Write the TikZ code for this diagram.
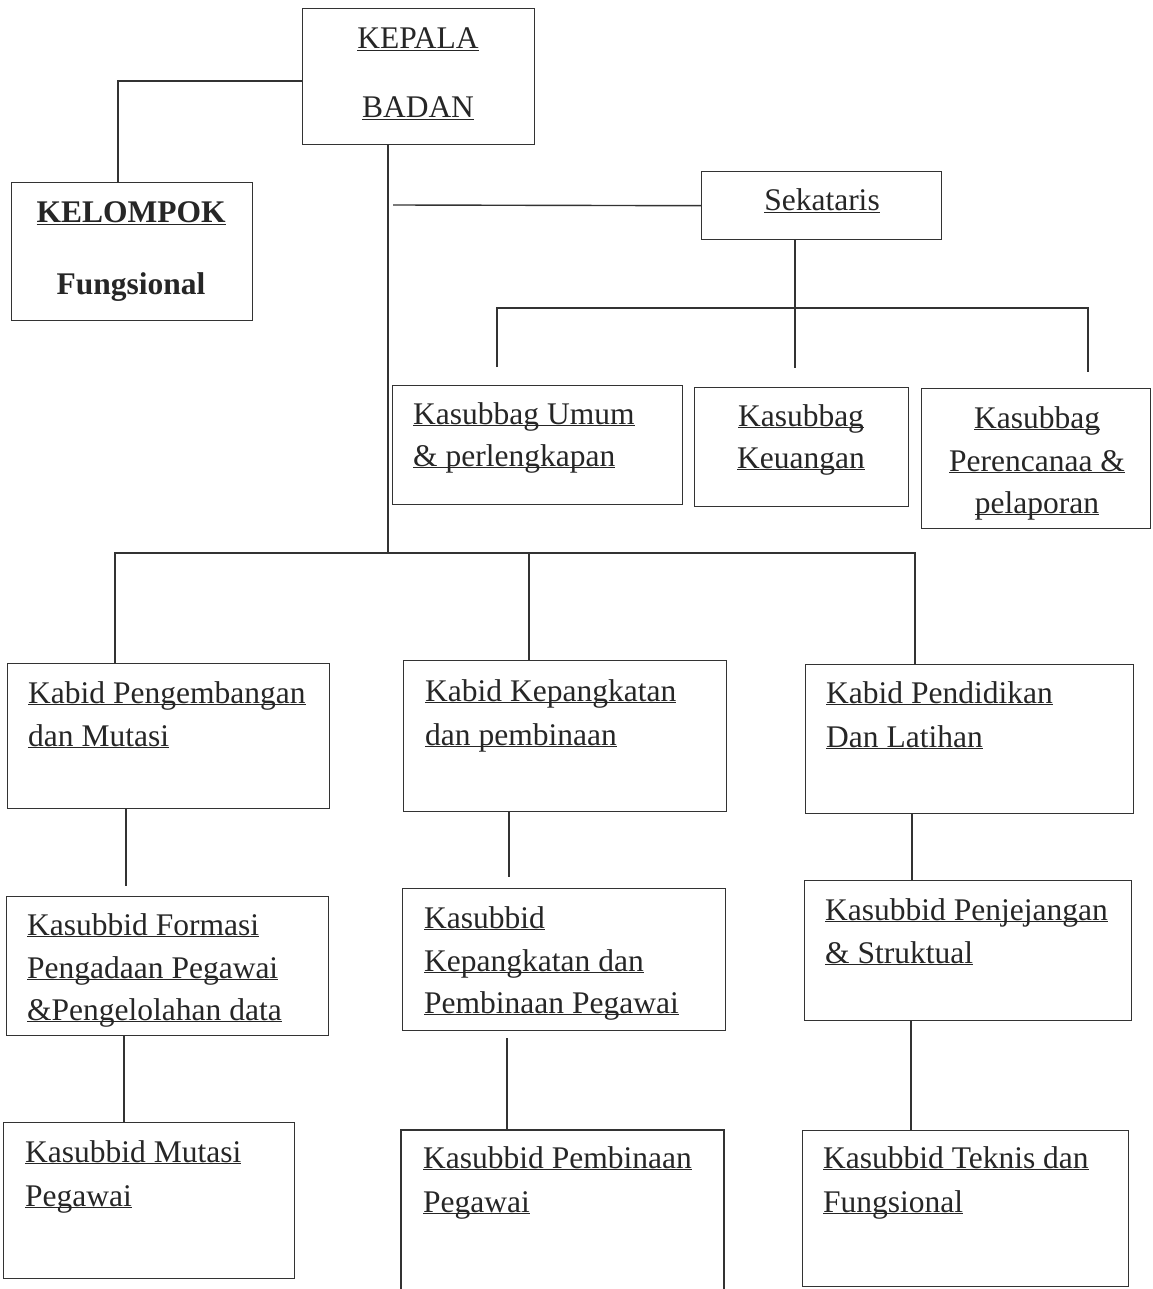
\documentclass[tikz,border=0pt]{standalone}
\usepackage{fontspec}
\setmainfont{Liberation Serif}
\newcommand\uln[1]{\underline{\smash{#1}}}
\definecolor{lc}{HTML}{333333}
\definecolor{tc}{HTML}{262626}
\begin{document}
\begin{tikzpicture}[x=1pt,y=-1pt,
  box/.style={draw=lc, line width=1.4pt, inner sep=0pt, anchor=north west},
  conn/.style={draw=lc, line width=1.4pt},
  txt/.style={inner sep=0pt, text=tc, font=\fontsize{31.5}{43}\selectfont},
  tl/.style={txt, anchor=base west},
  tm/.style={txt, anchor=base}]
\useasboundingbox (0,0) rectangle (1152,1289);
\fill[white] (0,0) rectangle (1152,1289);

% boxes
\node[box, minimum width=232pt, minimum height=136pt] (kepala) at (302,8) {};
\node[box, minimum width=241pt, minimum height=138pt] (kelompok) at (11,182) {};
\node[box, minimum width=240pt, minimum height=68pt] (sek) at (701,171) {};
\node[box, minimum width=290pt, minimum height=119pt] (umum) at (392,385) {};
\node[box, minimum width=214pt, minimum height=119pt] (keu) at (694,387) {};
\node[box, minimum width=229pt, minimum height=140pt] (ren) at (921,388) {};
\node[box, minimum width=322pt, minimum height=145pt] (kb1) at (7,663) {};
\node[box, minimum width=323pt, minimum height=151pt] (kb2) at (403,660) {};
\node[box, minimum width=328pt, minimum height=149pt] (kb3) at (805,664) {};
\node[box, minimum width=322pt, minimum height=139pt] (ks1) at (6,896) {};
\node[box, minimum width=323pt, minimum height=142pt] (ks2) at (402,888) {};
\node[box, minimum width=327pt, minimum height=140pt] (ks3) at (804,880) {};
\node[box, minimum width=291pt, minimum height=156pt] (km1) at (3,1122) {};
\node[box, minimum width=326pt, minimum height=156pt] (km3) at (802,1130) {};
% open-bottom box
\coordinate (km2bl) at (401,1289);
\coordinate (km2br) at (724,1289);
\draw[conn] (km2bl) -- (401,1130) coordinate (km2tl) -- (724,1130) coordinate (km2tr) -- (km2br);

% texts
\node[tm] (t-kep1) at (418,49) {\uln{KEPALA}};
\node[tm] (t-kep2) at (418,118) {\uln{BADAN}};
\node[tm, font=\fontsize{31.5}{43}\selectfont\bfseries] (t-kel1) at (131,223) {\uln{KELOMPOK}};
\node[tm, font=\fontsize{31.5}{43}\selectfont\bfseries] (t-kel2) at (131,294) {Fungsional};
\node[tm] (t-sek) at (822,211) {\uln{Sekataris}};
\node[tl] (t-um1) at (413,424) {\uln{Kasubbag Umum}};
\node[tl] (t-um2) at (413,466) {\uln{\& perlengkapan}};
\node[tm] (t-ke1) at (801,426) {\uln{Kasubbag}};
\node[tm] (t-ke2) at (801,468) {\uln{Keuangan}};
\node[tm] (t-re1) at (1037,428) {\uln{Kasubbag}};
\node[tm] (t-re2) at (1037,471) {\uln{Perencanaa \&}};
\node[tm] (t-re3) at (1037,513) {\uln{pelaporan}};
\node[tl] (t-kb11) at (28,703) {\uln{Kabid Pengembangan}};
\node[tl] (t-kb12) at (28,746) {\uln{dan Mutasi}};
\node[tl] (t-kb21) at (425,701) {\uln{Kabid Kepangkatan}};
\node[tl] (t-kb22) at (425,745) {\uln{dan pembinaan}};
\node[tl] (t-kb31) at (826,703) {\uln{Kabid Pendidikan}};
\node[tl] (t-kb32) at (826,747) {\uln{Dan Latihan}};
\node[tl] (t-ks11) at (27,935) {\uln{Kasubbid Formasi}};
\node[tl] (t-ks12) at (27,978) {\uln{Pengadaan Pegawai}};
\node[tl] (t-ks13) at (27,1020) {\uln{\&Pengelolahan data}};
\node[tl] (t-ks21) at (424,928) {\uln{Kasubbid}};
\node[tl] (t-ks22) at (424,971) {\uln{Kepangkatan dan}};
\node[tl] (t-ks23) at (424,1013) {\uln{Pembinaan Pegawai}};
\node[tl] (t-ks31) at (825,920) {\uln{Kasubbid Penjejangan}};
\node[tl] (t-ks32) at (825,963) {\uln{\& Struktual}};
\node[tl] (t-km11) at (25,1162) {\uln{Kasubbid Mutasi}};
\node[tl] (t-km12) at (25,1206) {\uln{Pegawai}};
\node[tl] (t-km21) at (423,1168) {\uln{Kasubbid Pembinaan}};
\node[tl] (t-km22) at (423,1212) {\uln{Pegawai}};
\node[tl] (t-km31) at (823,1168) {\uln{Kasubbid Teknis dan}};
\node[tl] (t-km32) at (823,1212) {\uln{Fungsional}};

% connectors
\draw[conn] (kepala.west |- 0,81) -| (kelompok.north -| 118,0);
\coordinate (bus) at (388,553);
\draw[conn] (kepala.south -| 388,0) -- (bus);
\coordinate (s0) at (393,205);
\draw[conn] (s0) -- (sek.west);
\coordinate (sb) at (795,308);
\coordinate (s1) at (497,367);
\coordinate (s2) at (795,368);
\coordinate (s3) at (1088,372);
\draw[conn] (sek.south -| sb) -- (s2);
\draw[conn] (s1) |- (sb) -| (s3);
\draw[conn] (kb1.north -| 115,0) |- (bus) -| (kb3.north -| 915,0);
\draw[conn] (bus -| 529,0) -- (kb2.north -| 529,0);
\coordinate (g1) at (126,886);
\coordinate (g2) at (509,877);
\draw[conn] (kb1.south -| g1) -- (g1);
\draw[conn] (kb2.south -| g2) -- (g2);
\draw[conn] (kb3.south -| 912,0) -- (ks3.north -| 912,0);
\draw[conn] (ks1.south -| 124,0) -- (km1.north -| 124,0);
\coordinate (g3) at (507,1038);
\draw[conn] (g3) -- (km2tl -| g3);
\draw[conn] (ks3.south -| 911,0) -- (km3.north -| 911,0);
\end{tikzpicture}
\end{document}
